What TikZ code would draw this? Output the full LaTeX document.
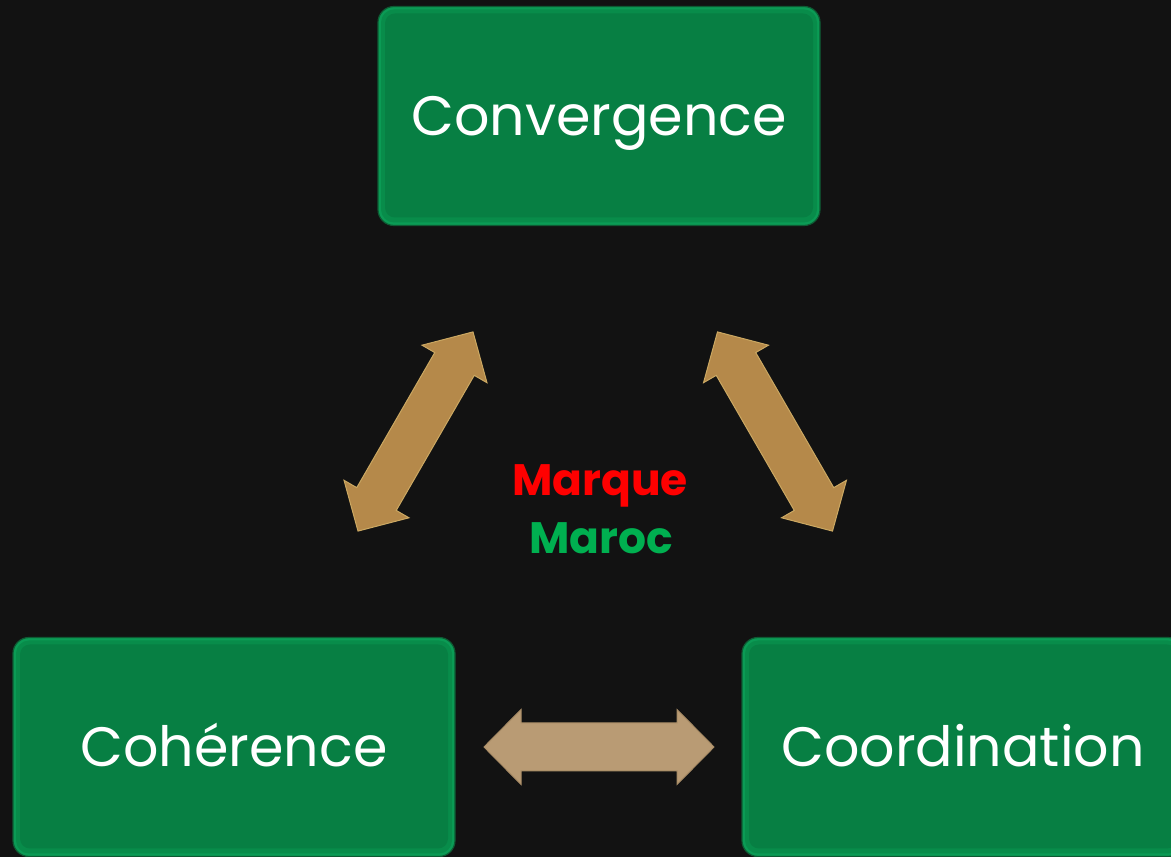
\documentclass[tikz,border=0pt]{standalone}
\usepackage{fontspec}
\setmainfont{Poppins}
\definecolor{bg}{HTML}{121212}
\definecolor{boxedge}{HTML}{0B9B55}
\definecolor{boxmid}{HTML}{088C4A}
\definecolor{boxdark}{HTML}{077F43}
\definecolor{boxline}{HTML}{0E5A33}
\definecolor{diagfill}{HTML}{B5894A}
\definecolor{diagline}{HTML}{CBA862}
\definecolor{horfill}{HTML}{B99B74}
\definecolor{horline}{HTML}{A88C66}
\definecolor{mred}{HTML}{FF0000}
\definecolor{mgreen}{HTML}{00B050}
\newcommand{\dblarrow}[4]{%
  \begin{scope}[shift={#1}, rotate=#2]
    \draw[#3] (-115,0) -- (-78,37.5) -- (-78,#4) -- (78,#4) -- (78,37.5) -- (115,0)
      -- (78,-37.5) -- (78,-#4) -- (-78,-#4) -- (-78,-37.5) -- cycle;
  \end{scope}}
\begin{document}
\begin{tikzpicture}[x=1pt,y=1pt,
  box/.style={rounded corners=16pt, fill=boxedge, draw=boxline, line width=1.2pt,
    minimum width=442pt, minimum height=219pt, inner sep=0pt,
    text=white, font=\fontsize{55.5}{60}\selectfont, text height=40pt, text depth=0pt,
    path picture={
      \fill[boxmid, rounded corners=13pt]
        ([shift={(3pt,3pt)}]path picture bounding box.south west) rectangle
        ([shift={(-3pt,-3pt)}]path picture bounding box.north east);
      \fill[boxdark, rounded corners=10pt]
        ([shift={(7pt,8pt)}]path picture bounding box.south west) rectangle
        ([shift={(-7pt,-7pt)}]path picture bounding box.north east);
    }},
  diag/.style={fill=diagfill, draw=diagline, line width=1pt, line join=miter},
  horiz/.style={fill=horfill, draw=horline, line width=1pt, line join=miter},
  center/.style={font=\bfseries\fontsize{44}{46}\selectfont, anchor=base, inner sep=0pt}
]
\fill[bg] (0,0) rectangle (1171,857);
\useasboundingbox (0,0) rectangle (1171,857);

\node[box] (conv) at (599,741) {Convergence};
\node[box] (coh)  at (234,110) {Cohérence};
\begin{scope}
  \clip (0,0) rectangle (1171,857);
  \node[box] (coord) at (963,110) {Coordination};
\end{scope}

\dblarrow{(415.5,425.5)}{60}{diag}{22.8}
\dblarrow{(775,425.5)}{120}{diag}{22.8}
\dblarrow{(599,110)}{0}{horiz}{24}

\node[center, text=mred]   (marque) at (600,361) {Marque};
\node[center, text=mgreen] (maroc)  at (601,303) {Maroc};
\end{tikzpicture}
\end{document}
